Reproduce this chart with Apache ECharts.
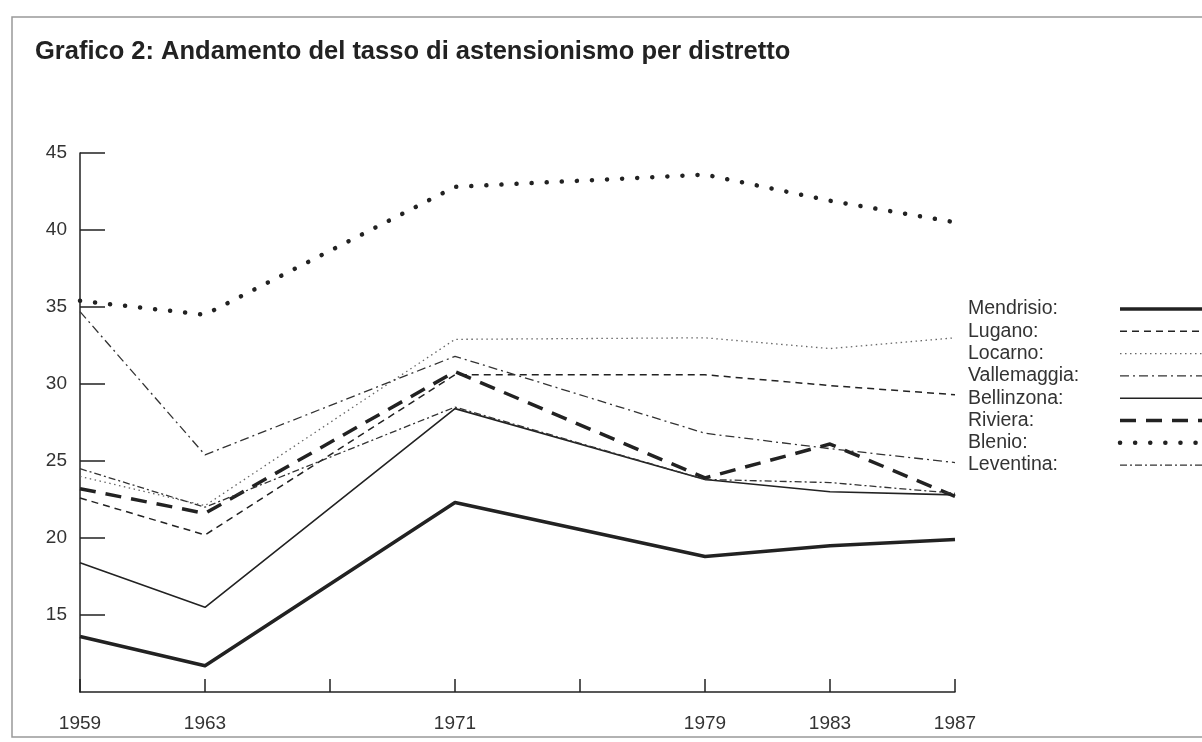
<!DOCTYPE html>
<html>
<head>
<meta charset="utf-8">
<title>Grafico 2</title>
<script src="https://cdn.jsdelivr.net/npm/echarts@6/dist/echarts.min.js"></script>
<style>
    html, body { margin: 0; padding: 0; background: #fff; }
    #chart { width: 1202px; height: 742px; }
</style>
</head>
<body>
<div id="chart"></div>
<script>
// anni (1967 e 1975 senza dato, solo tacca sull'asse)
var years = ['1959', '1963', '1967', '1971', '1975', '1979', '1983', '1987'];
var shownYears = ['1959', '1963', '1971', '1979', '1983', '1987'];

var mendrisio   = [13.6, 11.7, null, 22.3, null, 18.8, 19.5, 19.9];
var lugano      = [22.6, 20.2, null, 30.6, null, 30.6, 29.9, 29.3];
var locarno     = [24.0, 22.1, null, 32.9, null, 33.0, 32.3, 33.0];
var vallemaggia = [34.7, 25.4, null, 31.8, null, 26.8, 25.8, 24.9];
var bellinzona  = [18.4, 15.5, null, 28.4, null, 23.8, 23.0, 22.8];
var riviera     = [23.2, 21.6, null, 30.8, null, 23.9, 26.1, 22.7];
var blenio      = [35.4, 34.5, null, 42.8, null, 43.6, 41.9, 40.5];
var leventina   = [24.5, 22.0, null, 28.5, null, 23.8, 23.6, 22.9];

var font = '"Liberation Sans", Arial, sans-serif';
var ink = '#222';

function serie(name, data, width, type, color, cap) {
    return {
        name: name,
        type: 'line',
        data: data,
        connectNulls: true,
        symbol: 'none',
        lineStyle: { color: color || ink, width: width, type: type, cap: cap || 'butt', join: 'round' },
        itemStyle: { color: color || ink }
    };
}

var series = [
    serie('Mendrisio', mendrisio, 3.5, 'solid'),
    serie('Lugano', lugano, 1.5, [7, 5]),
    serie('Locarno', locarno, 1.3, [1.5, 3.5], '#666'),
    serie('Vallemaggia', vallemaggia, 1.3, [9, 4, 2, 4], '#333'),
    serie('Bellinzona', bellinzona, 1.6, 'solid'),
    serie('Riviera', riviera, 3.5, [16, 10]),
    serie('Blenio', blenio, 4.5, [0.1, 15], ink, 'round'),
    serie('Leventina', leventina, 1.3, [7, 3, 2, 3], '#333')
];

var option = {
    animation: false,
    backgroundColor: '#fff',
    textStyle: { fontFamily: font },
    title: {
        text: 'Grafico 2: Andamento del tasso di astensionismo per distretto',
        left: 30,
        top: 34,
        textStyle: { fontFamily: font, fontSize: 25.5, fontWeight: 'bold', color: '#222' }
    },
    graphic: [{
        type: 'rect',
        z: -1,
        shape: { x: 12, y: 17, width: 1300, height: 720 },
        style: { fill: 'none', stroke: '#999', lineWidth: 1.5 }
    }],
    legend: {
        orient: 'vertical',
        left: 968,
        top: 299,
        padding: 0,
        align: 'right',
        selectedMode: false,
        itemWidth: 95,
        itemHeight: 14,
        itemGap: 2.3,
        itemStyle: { opacity: 0 },
        lineStyle: { width: 'inherit' },
        formatter: '{a|{name}:}',
        textStyle: {
            fontFamily: font,
            fontSize: 19.5,
            color: '#333',
            rich: { a: { width: 147, align: 'left', fontSize: 19.5, lineHeight: 18, color: '#333' } }
        },
        data: series.map(function (s) { return s.name; })
    },
    grid: { left: 80, top: 153, right: 247, bottom: 50, containLabel: false },
    xAxis: {
        type: 'category',
        data: years,
        boundaryGap: false,
        axisLine: { lineStyle: { color: ink, width: 1.5 } },
        axisTick: { inside: true, length: 13, lineStyle: { color: ink, width: 1.5 } },
        axisLabel: {
            margin: 22,
            fontSize: 19,
            color: '#333',
            interval: 0,
            formatter: function (v) { return shownYears.indexOf(v) > -1 ? v : ''; }
        },
        splitLine: { show: false }
    },
    yAxis: {
        type: 'value',
        min: 10,
        max: 45,
        interval: 5,
        axisLine: { show: true, lineStyle: { color: ink, width: 1.5 } },
        axisTick: { show: true, inside: true, length: 25, lineStyle: { color: ink, width: 1.5 } },
        axisLabel: { margin: 13, fontSize: 19, color: '#333', showMinLabel: false },
        splitLine: { show: false }
    },
    series: series
};

var chart = echarts.init(document.getElementById('chart'));
chart.setOption(option);
</script>
</body>
</html>
